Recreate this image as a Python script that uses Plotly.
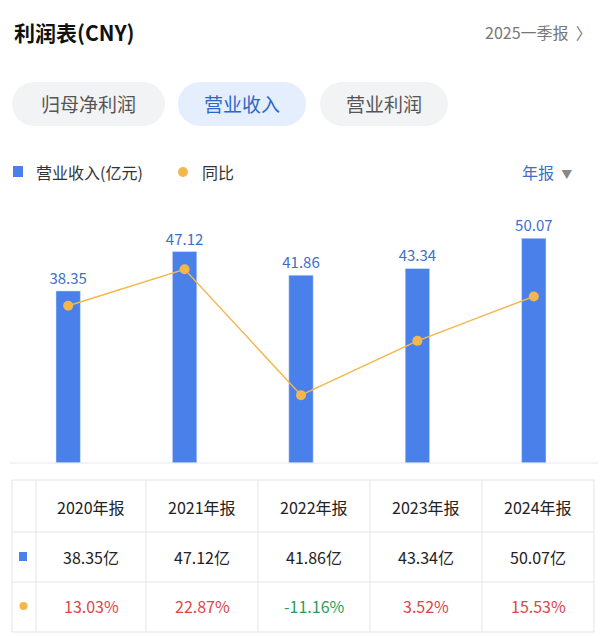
import plotly.graph_objects as go

W, H = 609, 636
FONT = "Noto Sans CJK SC"
OFF = 8  # page body margin

# data
years = ["2020年报", "2021年报", "2022年报", "2023年报", "2024年报"]
revenue = [38.35, 47.12, 41.86, 43.34, 50.07]
yoy = [13.03, 22.87, -11.16, 3.52, 15.53]

BLUE = "#4a80ea"
ORANGE = "#f3b74c"

def px(x):
    return (x - OFF) / W

def py(y):
    return 1 - (y - OFF) / H

fig = go.Figure()
fig.add_trace(go.Bar(x=list(range(5)), y=revenue, width=0.21, marker_color=BLUE,
                     text=[f"{v:.2f}" for v in revenue], textposition="outside",
                     constraintext="none",
                     textfont=dict(color="#3d6fc9", size=15, family=FONT),
                     cliponaxis=False, hoverinfo="skip"))
fig.add_trace(go.Scatter(x=list(range(5)), y=yoy, yaxis="y2", mode="lines+markers",
                         line=dict(color=ORANGE, width=1.5),
                         marker=dict(color=ORANGE, size=10), hoverinfo="skip"))

shapes = []
ann = []

def text(x, y, s, size=16, color="#222", anchor="center", bold=False):
    if bold:
        s = f"<b>{s}</b>"
    ann.append(dict(x=px(x), y=py(y), xref="paper", yref="paper", text=s, showarrow=False,
                    xanchor=anchor, yanchor="middle",
                    font=dict(size=size, color=color, family=FONT)))

def rect(x0, y0, x1, y1, fill, line="rgba(0,0,0,0)"):
    shapes.append(dict(type="rect", xref="paper", yref="paper", x0=px(x0), x1=px(x1),
                       y0=py(y1), y1=py(y0), fillcolor=fill, line=dict(color=line, width=1),
                       layer="below"))

def circle(x0, y0, x1, y1, fill):
    shapes.append(dict(type="circle", xref="paper", yref="paper", x0=px(x0), x1=px(x1),
                       y0=py(y1), y1=py(y0), fillcolor=fill, line=dict(width=0),
                       layer="below"))

def hline(x0, x1, y, color="#e6e6e6"):
    shapes.append(dict(type="line", xref="paper", yref="paper", x0=px(x0), x1=px(x1),
                       y0=py(y), y1=py(y), line=dict(color=color, width=1)))

def vline(x, y0, y1, color="#e6e6e6"):
    shapes.append(dict(type="line", xref="paper", yref="paper", x0=px(x), x1=px(x),
                       y0=py(y0), y1=py(y1), line=dict(color=color, width=1)))

# header
text(12, 32, "利润表(CNY)", size=21, color="#111", anchor="left", bold=True)
text(594, 32, "2025一季报  〉", size=16, color="#777", anchor="right")

# tabs
for x0, x1, label, bg, fc in [(12, 165, "归母净利润", "#f2f3f5", "#555"),
                              (178, 306, "营业收入", "#e4eefc", "#2b66c9"),
                              (320, 448, "营业利润", "#f2f3f5", "#555")]:
    rect(x0 + 20, 82, x1 - 20, 126, bg)
    circle(x0, 82, x0 + 44, 126, bg)
    circle(x1 - 44, 82, x1, 126, bg)
    text((x0 + x1) / 2, 104, label, size=19, color=fc)

# legend
rect(13, 166, 23, 177, BLUE)
text(34, 172, "营业收入(亿元)", size=16, color="#333", anchor="left")
circle(178, 167, 188, 177, ORANGE)
text(200, 172, "同比", size=16, color="#333", anchor="left")
text(520, 172, "年报  <span style='font-size:11px;color:#888'>▼</span>", size=16,
     color="#3d6fc9", anchor="left")

# baseline
hline(10, 598, 463, "#e8e8e8")

# table
rect(12, 480, 594, 632, "rgba(0,0,0,0)", "#e3e3e3")
hline(12, 594, 532)
hline(12, 594, 582)
cols = [36, 146, 258, 370, 482, 594]
for x in cols[:-1]:
    vline(x, 480, 632)
for i in range(5):
    cx = (cols[i] + cols[i + 1]) / 2
    text(cx, 507, years[i], size=16, color="#222")
    text(cx, 557, f"{revenue[i]:.2f}亿", size=16, color="#222")
    c = "#e0454a" if yoy[i] >= 0 else "#2a9d5c"
    text(cx, 606, f"{yoy[i]:.2f}%", size=16, color=c)
rect(19, 552, 27, 561, BLUE)
circle(19.5, 602, 27.5, 610, ORANGE)

fig.update_layout(
    width=W, height=H, margin=dict(l=0, r=0, t=0, b=0),
    paper_bgcolor="white", plot_bgcolor="white", showlegend=False,
    xaxis=dict(domain=[px(10), px(592)], range=[-0.5, 4.5], visible=False),
    yaxis=dict(domain=[py(463), py(200)], range=[0, 58.6], visible=False),
    yaxis2=dict(domain=[py(463), py(200)], range=[-29.5, 41.6], overlaying="y",
                visible=False),
    shapes=shapes, annotations=ann,
)
fig.write_html("out.html")
